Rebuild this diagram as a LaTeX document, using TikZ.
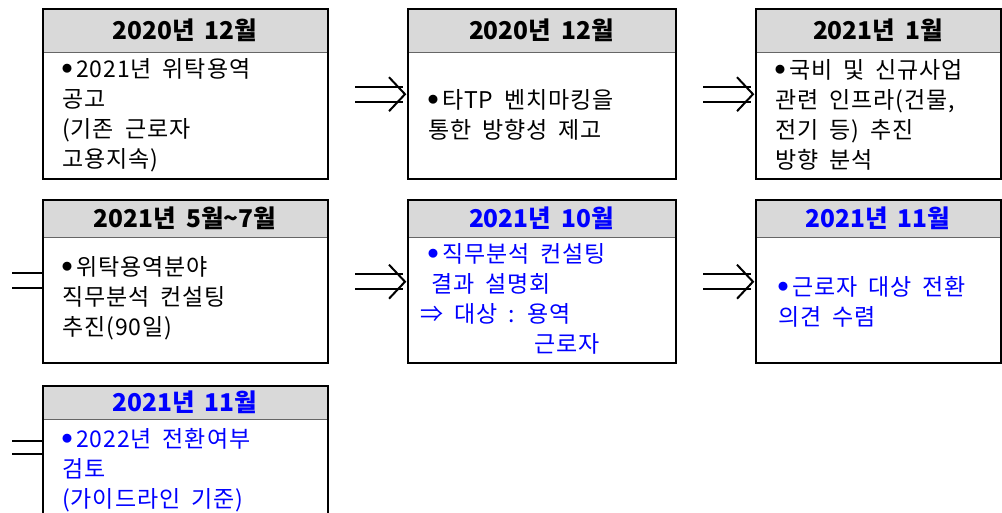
\documentclass[tikz,border=0pt]{standalone}
\usepackage{fontspec}
\setmainfont{Noto Sans CJK KR}[WordSpace=1.8]
\newfontfamily\bodyfont{Noto Sans CJK KR}[WordSpace=1.8, LetterSpace=4]
\usetikzlibrary{positioning,calc}
\definecolor{headgray}{RGB}{217,217,217}
\definecolor{planblue}{RGB}{0,0,255}
\newcommand{\itemdot}{\raisebox{5pt}{\fontsize{10}{10}\selectfont ●}\,}

\begin{document}
\begin{tikzpicture}[x=1pt,y=-1pt,
        frame/.style={rectangle, draw=black, line width=2.4pt, anchor=north west, inner sep=0pt},
        head/.style={rectangle, fill=headgray, draw=black!60, line width=0.8pt, anchor=north west, inner sep=0pt, font=\fontsize{24.5}{26}\selectfont\bfseries},
        body/.style={anchor=west, align=left, inner sep=0pt, font=\bodyfont\fontsize{23}{30}\selectfont},
        link/.style={line width=2pt}
    ]
    \clip (0,0) rectangle (1002,512);
    \useasboundingbox (0,0) rectangle (1002,512);

    % first row
    \node[head, minimum width=285pt, minimum height=44pt] (d1) at (42,8) {2020년 12월};
    \node[frame, minimum width=285pt, minimum height=170pt] (b1) at (42,8) {};
    \node[body] (t1) at (62,115) {\itemdot 2021년 위탁용역\\ 공고\\ (기존 근로자\\ 고용지속)};

    \node[head, minimum width=268pt, minimum height=44pt] (d2) at (407,8) {2020년 12월};
    \node[frame, minimum width=268pt, minimum height=170pt] (b2) at (407,8) {};
    \node[body] (t2) at (428,115) {\itemdot 타TP 벤치마킹을\\통한 방향성 제고};

    \node[head, minimum width=245pt, minimum height=44pt] (d3) at (755,8) {2021년 1월};
    \node[frame, minimum width=245pt, minimum height=170pt] (b3) at (755,8) {};
    \node[body] (t3) at (775,115) {\itemdot 국비 및 신규사업\\관련 인프라(건물,\\전기 등) 추진\\ 방향 분석};

    % second row
    \node[head, minimum width=285pt, minimum height=38pt] (d4) at (42,199) {2021년 5월\textasciitilde 7월};
    \node[frame, minimum width=285pt, minimum height=163pt] (b4) at (42,199) {};
    \node[body] (t4) at (62,298) {\itemdot 위탁용역분야\\직무분석 컨설팅\\추진(90일)};

    \node[head, minimum width=268pt, minimum height=38pt, text=planblue] (d5) at (407,199) {2021년 10월};
    \node[frame, minimum width=268pt, minimum height=163pt] (b5) at (407,199) {};
    \node[body, text=planblue] (t5) at (420,299) {\hspace{8pt}\itemdot 직무분석 컨설팅\\\hspace{11pt}결과 설명회\\⇒ 대상 : 용역\\\hspace{114pt}근로자};

    \node[head, minimum width=245pt, minimum height=38pt, text=planblue] (d6) at (755,199) {2021년 11월};
    \node[frame, minimum width=245pt, minimum height=163pt] (b6) at (755,199) {};
    \node[body, text=planblue] (t6) at (778,302) {\itemdot 근로자 대상 전환\\의견 수렴};

    % third row
    \node[head, minimum width=285pt, minimum height=34pt, text=planblue] (d7) at (42,385) {2021년 11월};
    \node[frame, minimum width=285pt, minimum height=140pt] (b7) at (42,385) {};
    \node[body, text=planblue] (t7) at (62,470) {\itemdot 2022년 전환여부\\ 검토\\ (가이드라인 기준)};

    % arrows between boxes
    \foreach \from/\to in {b1/b2, b2/b3, b4/b5, b5/b6} {
        \draw[link] ([xshift=26pt,yshift=7.5pt]\from.east) -- ([xshift=-4pt,yshift=7.5pt]\to.west);
        \draw[link] ([xshift=26pt,yshift=-7.5pt]\from.east) -- ([xshift=-4pt,yshift=-7.5pt]\to.west);
        \draw[link] ([xshift=-18pt,yshift=17pt]\to.west) -- ([xshift=-2pt]\to.west) -- ([xshift=-18pt,yshift=-17pt]\to.west);
    }

    % lines coming in from the previous row
    \coordinate (r4a) at (12,273);
    \coordinate (r4b) at (12,288);
    \coordinate (r7a) at (12,441);
    \coordinate (r7b) at (12,454);
    \draw[link] (r4a) -- (r4a -| b4.west);
    \draw[link] (r4b) -- (r4b -| b4.west);
    \draw[link] (r7a) -- (r7a -| b7.west);
    \draw[link] (r7b) -- (r7b -| b7.west);
\end{tikzpicture}
\end{document}
